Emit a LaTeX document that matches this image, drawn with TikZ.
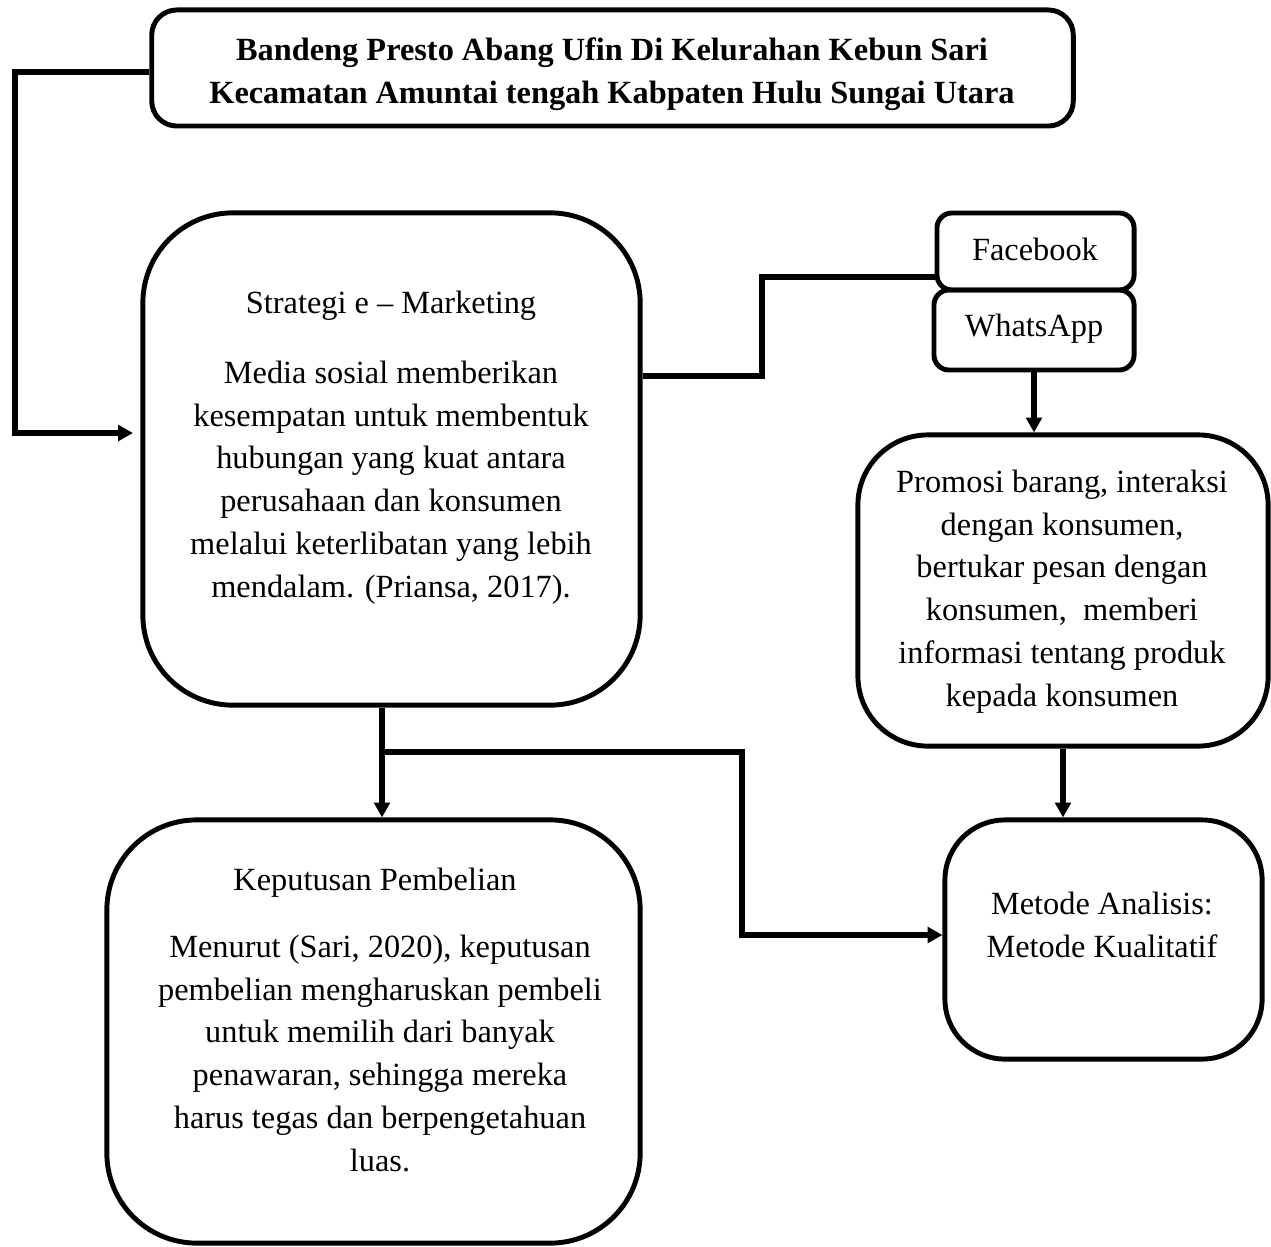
\documentclass[tikz,border=0pt]{standalone}
\usepackage{fontspec}
\setmainfont{Liberation Serif}
\usetikzlibrary{arrows.meta}

\begin{document}
\begin{tikzpicture}[x=0.01cm,y=-0.01cm,
  box/.style={draw,line width=1.4pt,inner sep=0pt},
  txt/.style={align=center,inner sep=0pt,anchor=north,font=\fontsize{9.2}{12.2}\selectfont},
  line/.style={line width=1.6pt,line join=miter},
  arr/.style={line width=1.6pt,line join=miter,-{Triangle[length=4.2pt,width=4.4pt]}}]
  \useasboundingbox (0,0) rectangle (1271,1246);

  \node[box,rounded corners=0.25cm,minimum width=9.21cm,minimum height=1.16cm] (0) at (612.5,68) {};
  \node[box,rounded corners=0.9cm,minimum width=4.97cm,minimum height=4.92cm] (1) at (391.5,459) {};
  \node[box,rounded corners=0.15cm,minimum width=1.97cm,minimum height=0.77cm] (2) at (1035.5,251.5) {};
  \node[box,rounded corners=0.15cm,minimum width=2.00cm,minimum height=0.80cm] (3) at (1034,330) {};
  \node[box,rounded corners=0.7cm,minimum width=4.10cm,minimum height=3.11cm] (4) at (1063,590.5) {};
  \node[box,rounded corners=0.9cm,minimum width=5.33cm,minimum height=4.23cm] (5) at (373.5,1031.5) {};
  \node[box,rounded corners=0.6cm,minimum width=3.17cm,minimum height=2.39cm] (6) at (1103.5,939.5) {};

  \node[txt,font=\fontsize{9.2}{12.2}\selectfont\bfseries] (t0) at (612,37)
    {Bandeng Presto Abang Ufin Di Kelurahan Kebun Sari\\Kecamatan Amuntai tengah Kabpaten Hulu Sungai Utara};
  \node[txt] (t1) at (391,290) {Strategi e -- Marketing};
  \node[txt] (t1b) at (391,360) {Media sosial memberikan\\kesempatan untuk membentuk\\hubungan yang kuat antara\\perusahaan dan konsumen\\melalui keterlibatan yang lebih\\mendalam. (Priansa, 2017).};
  \node[txt] (t2) at (1035,237) {Facebook};
  \node[txt] (t3) at (1034,313) {WhatsApp};
  \node[txt] (t4) at (1062,469) {Promosi barang, interaksi\\dengan konsumen,\\bertukar pesan dengan\\konsumen,\ \ memberi\\informasi tentang produk\\kepada konsumen};
  \node[txt] (t5) at (375,867) {Keputusan Pembelian};
  \node[txt] (t5b) at (380,934) {Menurut (Sari, 2020), keputusan\\pembelian mengharuskan pembeli\\untuk memilih dari banyak\\penawaran, sehingga mereka\\harus tegas dan berpengetahuan\\luas.};
  \node[txt] (t6) at (1102,891) {Metode Analisis:\\Metode Kualitatif};

  \coordinate (c0) at (15,433);
  \coordinate (c1) at (133,433);
  \coordinate (c2) at (762,277);
  \coordinate (c3) at (382,752);
  \coordinate (c4) at (742,935);

  \draw[arr] (0.west |- 0,72) -| (c0) -- (c1);
  \draw[line] (1.east |- 0,376) -| (c2) -- (2.west |- c2);
  \draw[arr] (3.south) -- (3.south |- 4.north);
  \draw[arr] (4.south) -- (4.south |- 6.north);
  \draw[arr] (1.south -| c3) -- (5.north -| c3);
  \draw[arr] (c3) -| (c4) -- (6.west |- c4);
\end{tikzpicture}
\end{document}
